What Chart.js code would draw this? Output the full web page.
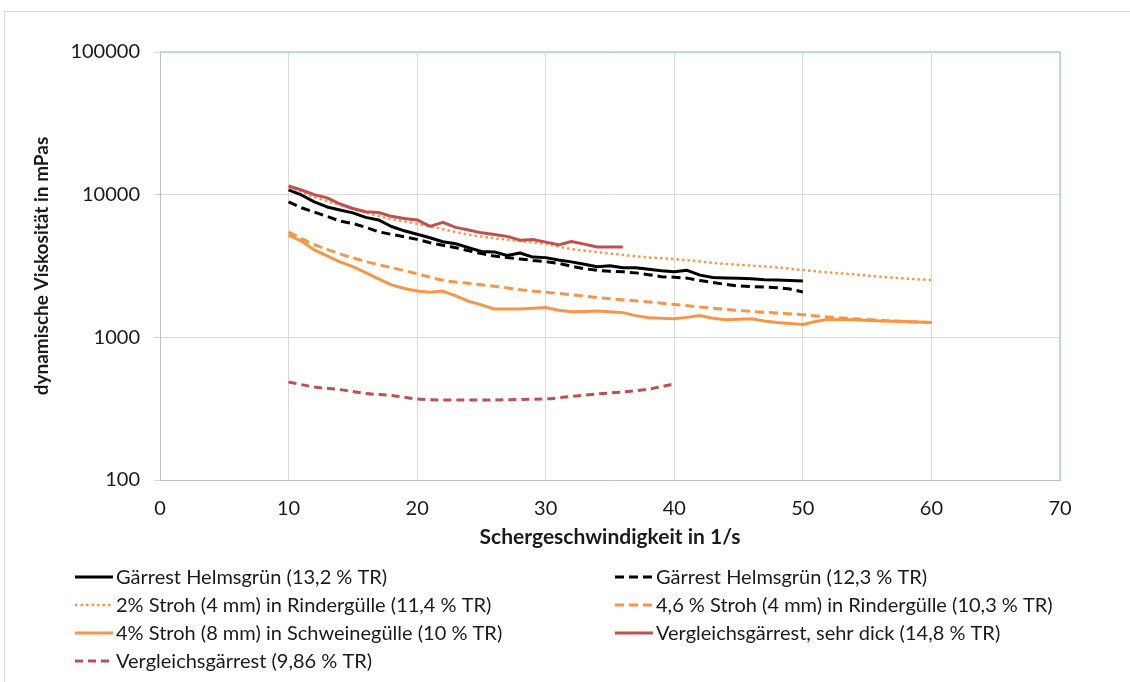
<!DOCTYPE html>
<html>
<head>
<meta charset="utf-8">
<script src="https://cdn.jsdelivr.net/npm/chart.js@4/dist/chart.umd.min.js"></script>
<style>
  html, body { margin: 0; padding: 0; background: #fff; }
  canvas { display: block; }
</style>
</head>
<body>
<canvas id="c" width="1130" height="682"></canvas>
<script>
// Shear rates (1/s) for each measurement series
const shear10to50 = [10,11,12,13,14,15,16,17,18,19,20,21,22,23,24,25,26,27,28,29,30,31,32,33,34,35,36,37,38,39,40,41,42,43,44,45,46,47,48,49,50];
const shear10to36 = [10,11,12,13,14,15,16,17,18,19,20,21,22,23,24,25,26,27,28,29,30,31,32,33,34,35,36];
const shear10to60step2 = [10,12,14,16,18,20,22,24,26,28,30,32,34,36,38,40,42,44,46,48,50,52,54,56,58,60];
const shearSchwein = [10,11,12,13,14,15,16,17,18,19,20,21,22,23,24,25,26,27,28,29,30,31,32,33,34,35,36,37,38,39,40,41,42,43,44,45,46,47,48,49,50,51,52,54,56,58,60];
const shear10to40step2 = [10,12,14,16,18,20,22,24,26,28,30,32,34,36,38,40];

// Dynamic viscosity (mPas)
const helmsgruen132 = [10800,9950,8900,8200,7800,7450,6930,6650,5980,5580,5280,4990,4680,4530,4250,4000,3970,3750,3900,3650,3620,3480,3380,3250,3120,3170,3070,3070,3000,2930,2880,2950,2730,2630,2610,2590,2570,2530,2520,2500,2480];
const helmsgruen123 = [8900,8100,7550,7040,6530,6280,5900,5490,5270,5060,4860,4600,4420,4250,4050,3860,3710,3620,3540,3460,3400,3300,3150,3030,2950,2900,2880,2830,2750,2660,2640,2600,2500,2420,2350,2290,2270,2250,2230,2180,2080];
const stroh2Rind = [11300,9630,8470,7480,6740,6250,5730,5250,4950,4730,4510,4160,3960,3780,3630,3540,3400,3270,3180,3090,2960,2850,2760,2660,2580,2520];
const stroh46Rind = [5470,4470,3850,3400,3080,2790,2510,2390,2280,2160,2070,1990,1900,1830,1770,1700,1630,1570,1520,1480,1440,1390,1350,1320,1290,1270];
const stroh4Schwein = [5200,4730,4100,3720,3380,3130,2840,2570,2330,2200,2110,2070,2110,1950,1790,1690,1580,1580,1580,1600,1620,1550,1510,1520,1530,1510,1490,1420,1370,1360,1350,1380,1420,1360,1330,1340,1350,1300,1270,1250,1230,1290,1340,1330,1300,1290,1270];
const vergleichDick = [11500,10780,10000,9500,8600,8000,7600,7500,7050,6800,6650,6000,6400,5900,5650,5400,5250,5100,4800,4850,4650,4450,4700,4500,4300,4300,4300];
const vergleich986 = [486,449,430,404,391,370,364,364,364,367,370,385,401,414,434,471];

// Axis tick values
const xTickValues = [0,10,20,30,40,50,60,70];
const yTickValues = [100,1000,10000,100000];

const seriesLabels = [
  'Gärrest Helmsgrün (13,2 % TR)',
  'Gärrest Helmsgrün (12,3 % TR)',
  '2% Stroh (4 mm) in Rindergülle (11,4 % TR)',
  '4,6 % Stroh (4 mm) in Rindergülle (10,3 % TR)',
  '4% Stroh (8 mm) in Schweinegülle (10 % TR)',
  'Vergleichsgärrest, sehr dick (14,8 % TR)',
  'Vergleichsgärrest (9,86 % TR)'
];

const BLACK = '#000000';
const ORANGE = '#F79646';
const RED = '#C0504D';
const FONT = 'Lato, "Liberation Sans", sans-serif';
const TEXT = '#1a1a1a';

function pts(xs, ys) { return xs.map((x, i) => ({ x: x, y: ys[i] })); }

function series(i, xs, ys, color, dash, width, smooth) {
  return {
    label: seriesLabels[i],
    data: pts(xs, ys),
    borderColor: color,
    backgroundColor: color,
    borderWidth: width,
    borderDash: dash,
    borderCapStyle: 'butt',
    borderJoinStyle: 'round',
    pointRadius: 0,
    fill: false,
    cubicInterpolationMode: smooth ? 'monotone' : 'default',
    tension: 0,
    order: 10 - i
  };
}

const datasets = [
  series(0, shear10to50, helmsgruen132, BLACK, [], 3, false),
  series(1, shear10to50, helmsgruen123, BLACK, [9, 5], 3, false),
  series(2, shear10to60step2, stroh2Rind, ORANGE, [2.5, 3], 2.5, true),
  series(3, shear10to60step2, stroh46Rind, ORANGE, [9, 5], 3, true),
  series(4, shearSchwein, stroh4Schwein, ORANGE, [], 3, false),
  series(5, shear10to36, vergleichDick, RED, [], 3, false),
  series(6, shear10to40step2, vergleich986, RED, [8, 5], 3, true)
];

// Frame around the whole figure and the plot-area border
const framePlugin = {
  id: 'frame',
  beforeDraw(chart) {
    const c = chart.ctx;
    c.save();
    c.fillStyle = '#ffffff';
    c.fillRect(0, 0, chart.width, chart.height);
    c.strokeStyle = '#d9d9d9';
    c.lineWidth = 1;
    c.strokeRect(4.5, 11.5, chart.width + 20, chart.height + 20);
    c.restore();
  },
  beforeDatasetsDraw(chart) {
    const a = chart.chartArea;
    const c = chart.ctx;
    c.save();
    c.strokeStyle = '#a9d3dd';
    c.lineWidth = 1.5;
    c.beginPath();
    c.moveTo(a.left, a.top);
    c.lineTo(a.right, a.top);
    c.lineTo(a.right, a.bottom);
    c.stroke();
    c.restore();
  }
};

// Two-column legend under the chart
const legendPlugin = {
  id: 'twoColLegend',
  afterDraw(chart) {
    const c = chart.ctx;
    c.save();
    c.font = '20px ' + FONT;
    c.textBaseline = 'middle';
    c.textAlign = 'left';
    chart.data.datasets.forEach((ds, i) => {
      const col = i % 2, row = Math.floor(i / 2);
      const x0 = col ? 615 : 75;
      const y = 577 + row * 28;
      c.strokeStyle = ds.borderColor;
      c.lineWidth = ds.borderWidth;
      c.setLineDash(ds.borderDash || []);
      c.lineCap = 'butt';
      c.beginPath();
      c.moveTo(x0, y);
      c.lineTo(x0 + 38, y);
      c.stroke();
      c.setLineDash([]);
      c.fillStyle = TEXT;
      c.fillText(ds.label, x0 + 41, y + 1);
    });
    c.restore();
  }
};

new Chart(document.getElementById('c'), {
  type: 'line',
  data: { datasets: datasets },
  options: {
    responsive: false,
    animation: false,
    devicePixelRatio: 1,
    layout: { padding: { left: 0, top: 52, right: 70, bottom: 132 } },
    plugins: { legend: { display: false }, tooltip: { enabled: false } },
    scales: {
      x: {
        type: 'linear',
        min: 0, max: 70,
        afterBuildTicks: s => { s.ticks = xTickValues.map(v => ({ value: v })); },
        afterFit: s => { s.height = 70; },
        grid: { color: '#d9d9d9', drawTicks: false, lineWidth: 1 },
        border: { color: '#bfbfbf', width: 1 },
        ticks: { padding: 17, color: TEXT, font: { family: FONT, size: 20 }, maxRotation: 0, callback: v => String(v) },
        title: {
          display: true,
          text: 'Schergeschwindigkeit in 1/s',
          color: TEXT,
          font: { family: FONT, size: 21, weight: 'bold' },
          padding: { top: 0, bottom: 0 }
        }
      },
      y: {
        type: 'logarithmic',
        min: 100, max: 100000,
        afterBuildTicks: s => { s.ticks = yTickValues.map(v => ({ value: v })); },
        afterFit: s => { s.width = 160; },
        grid: { color: '#d9d9d9', drawTicks: true, tickLength: 6, lineWidth: 1 },
        border: { color: '#bfbfbf', width: 1 },
        ticks: { padding: 14, color: TEXT, font: { family: FONT, size: 20 }, callback: v => String(v) },
        title: {
          display: true,
          text: 'dynamische Viskosität in mPas',
          color: TEXT,
          font: { family: FONT, size: 19, weight: 'bold' },
          padding: { top: 30, bottom: 0 }
        }
      }
    }
  },
  plugins: [framePlugin, legendPlugin]
});
</script>
</body>
</html>
